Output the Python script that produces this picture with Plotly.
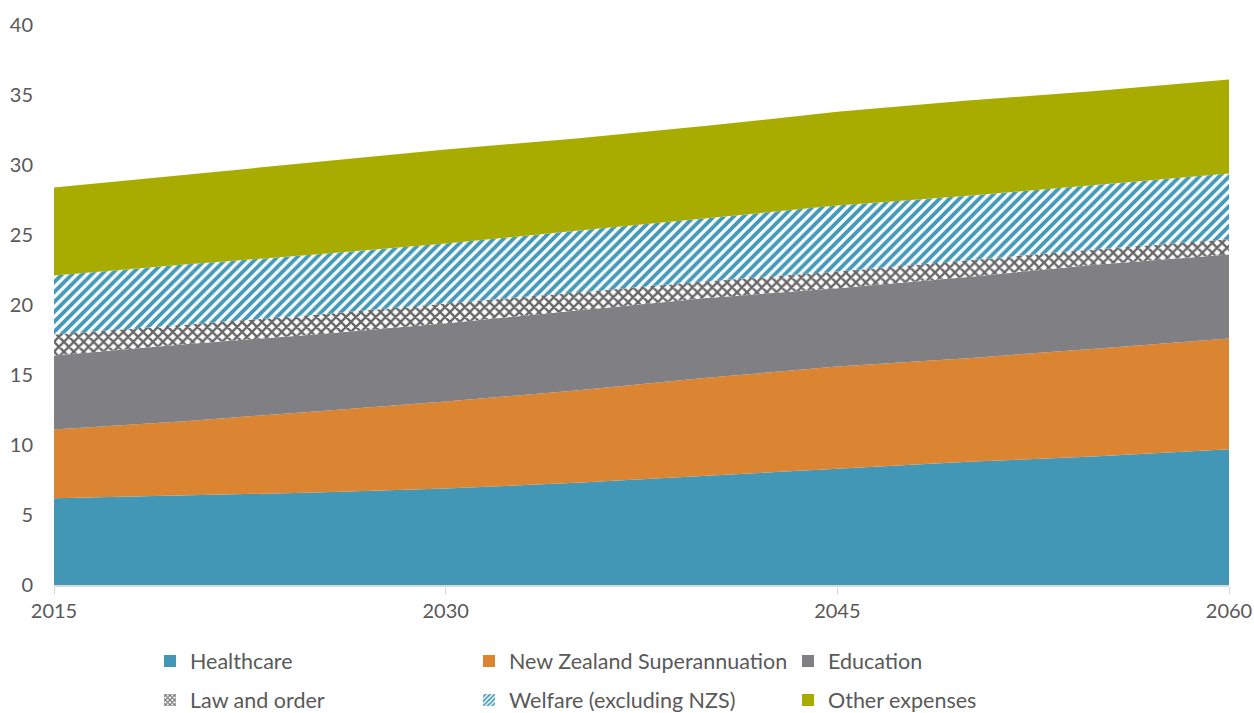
import plotly.graph_objects as go

years = [2015, 2020, 2025, 2030, 2035, 2040, 2045, 2050, 2055, 2060]
healthcare = [6.2, 6.4, 6.6, 6.9, 7.3, 7.8, 8.3, 8.8, 9.2, 9.7]
nz_super = [4.9, 5.3, 5.8, 6.2, 6.6, 7.0, 7.3, 7.4, 7.7, 7.9]
education = [5.3, 5.5, 5.5, 5.6, 5.7, 5.7, 5.6, 5.8, 6.0, 6.0]
law_order = [1.5, 1.4, 1.4, 1.4, 1.3, 1.2, 1.2, 1.2, 1.1, 1.1]
welfare = [4.2, 4.3, 4.3, 4.3, 4.4, 4.5, 4.7, 4.6, 4.6, 4.7]
other = [6.3, 6.4, 6.6, 6.7, 6.6, 6.6, 6.7, 6.8, 6.7, 6.7]

names = ["Healthcare", "New Zealand Superannuation", "Education",
         "Law and order", "Welfare (excluding NZS)", "Other expenses"]
series = [healthcare, nz_super, education, law_order, welfare, other]
colors = ["#4397b6", "#db8432", "#808084", "#666666", "#4499b8", "#a9ac00"]
patterns = [None, None, None, "x", "/", None]
legend_ids = ["legend", "legend", "legend", "legend2", "legend2", "legend2"]

FONT = "Lato"
TXT = "#595959"

fig = go.Figure()
for name, vals, col, pat in zip(names, series, colors, patterns):
    kw = {}
    if pat:
        kw["fillpattern"] = dict(shape=pat, fgcolor=col, bgcolor="white",
                                 size=7, solidity=0.55, fgopacity=1)
        kw["fillcolor"] = "white"
    else:
        kw["fillcolor"] = col
    fig.add_trace(go.Scatter(
        x=years, y=vals, name=name, mode="lines", stackgroup="one",
        line=dict(width=0, color=col), showlegend=False, **kw))

# legend entries as square swatches
for name, col, pat, lg in zip(names, colors, patterns, legend_ids):
    mk = dict(color=col if not pat else "white", line=dict(width=0))
    if pat:
        mk["pattern"] = dict(shape=pat, fgcolor=col, bgcolor="white",
                             size=4, solidity=0.55, fgopacity=1)
    fig.add_trace(go.Bar(x=[None], y=[None], name=name, marker=mk,
                         showlegend=True, legend=lg))

legend_common = dict(orientation="h", xref="container", yref="container",
                     xanchor="left", yanchor="middle",
                     font=dict(family=FONT, size=21.5, color=TXT),
                     entrywidth=274, entrywidthmode="pixels",
                     itemwidth=30, bgcolor="rgba(0,0,0,0)",
                     traceorder="normal")

fig.update_layout(
    width=1254, height=713,
    margin=dict(l=54, r=25, t=25, b=128, autoexpand=False),
    paper_bgcolor="white", plot_bgcolor="white",
    font=dict(family=FONT, size=19, color=TXT),
    barmode="overlay",
    legend=dict(x=150 / 1254, y=1 - 661 / 713, **legend_common),
    legend2=dict(x=150 / 1254, y=1 - 700 / 713, **legend_common),
    xaxis=dict(range=[2015, 2060], tickvals=[2015, 2030, 2045, 2060],
               ticks="outside", ticklen=7, tickcolor="#d9d9d9",
               showline=True, linecolor="#d9d9d9", linewidth=2,
               showgrid=False, zeroline=False, automargin=False,
               tickfont=dict(family=FONT, size=20, color=TXT)),
    yaxis=dict(range=[0, 40], dtick=5, showgrid=False, zeroline=False,
               showline=False, ticks="outside", ticklen=16,
               tickcolor="rgba(0,0,0,0)", automargin=False,
               tickfont=dict(family=FONT, size=20, color=TXT)),
)

fig.write_html("out.html")
